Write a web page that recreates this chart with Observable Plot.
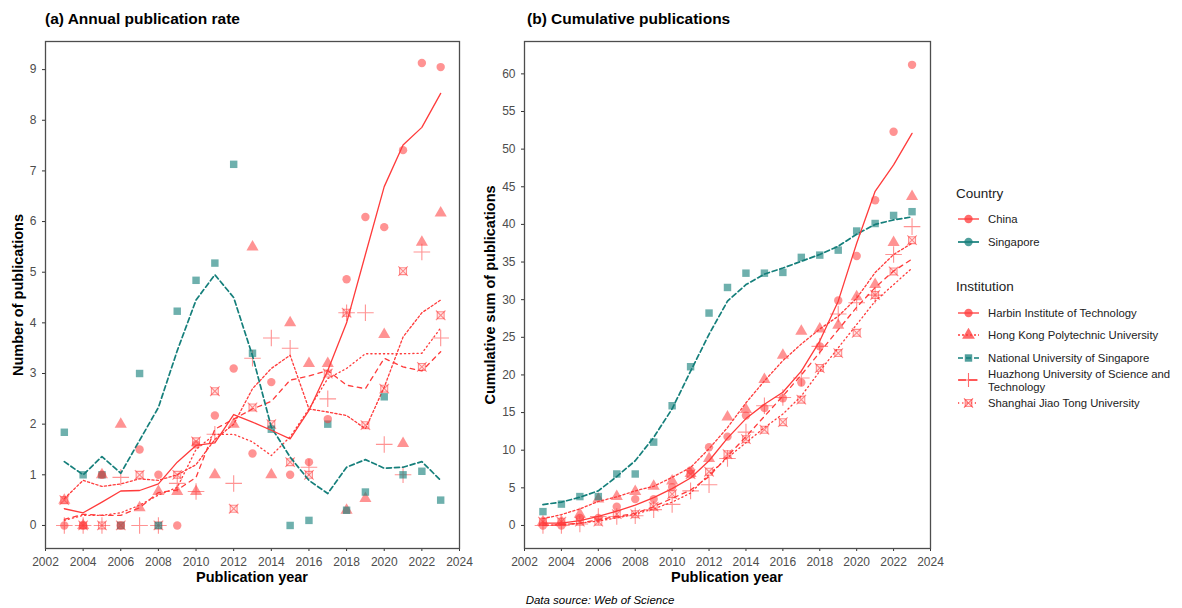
<!DOCTYPE html>
<html><head><meta charset="utf-8">
<script src="https://cdn.jsdelivr.net/npm/d3@7"></script>
<script src="https://cdn.jsdelivr.net/npm/@observablehq/plot@0.6"></script>
<style>
body{margin:0;background:#fff;font-family:"Liberation Sans",Arial,Helvetica,sans-serif;}
#wrap{position:relative;width:1182px;height:608px;overflow:hidden;}
.abs{position:absolute;white-space:nowrap;color:#000;}
.ttl{font-weight:bold;font-size:15.5px;}
.axt{font-weight:bold;font-size:14.5px;}
.lgt{font-size:13.5px;color:#222;}
.lgi{font-size:11.3px;color:#222;line-height:12.5px;}
</style></head>
<body><div id="wrap"></div>
<script>
// ---------------- data ----------------
const years = [2003,2004,2005,2006,2007,2008,2009,2010,2011,2012,2013,2014,2015,2016,2017,2018,2019,2020,2021,2022,2023];
const xTicks = [2002,2004,2006,2008,2010,2012,2014,2016,2018,2020,2022,2024];
const yTicksA = [0,1,2,3,4,5,6,7,8,9];
const yTicksB = [0,5,10,15,20,25,30,35,40,45,50,55,60];

// (a) annual publication counts (points)
const annHarbin   = [0,0,1.0,0,1.5,1.0,0,1.6,2.17,3.1,1.42,2.83,1.0,1.25,2.1,4.86,6.09,5.89,7.41,9.13,9.05];
const annHKPolyU  = [0.5,0,1.0,2.0,0.35,0.67,0.67,0.67,1.0,2.0,5.5,1.0,4.0,3.2,3.2,0.3,0.53,3.77,1.62,5.59,6.17];
const annNUS      = [1.84,1.0,1.0,0,3.0,0,4.23,4.84,5.18,7.13,3.4,1.9,0,0.1,2.0,0.3,0.66,2.54,1.0,1.07,0.5];
const annHuazhong = [0,0,0,0.95,0,0,0.83,0.67,1.8,0.83,3.3,3.7,3.5,1.15,2.5,4.2,4.2,1.6,1.0,5.4,3.7];
const annSJTU     = [0.5,0,0,0,1.0,0,1.0,1.66,2.65,0.33,2.33,2.0,1.25,1.0,3.0,4.2,1.98,2.7,5.02,3.13,4.15];

// (a) trend lines
const trHarbin   = [0.33,0.25,0.46,0.68,0.69,0.82,1.25,1.58,1.63,2.19,2.04,1.88,1.71,2.27,3.06,4.0,5.35,6.69,7.51,7.86,8.53];
const trHKPolyU  = [0.53,0.89,0.77,0.82,0.92,0.89,1.0,1.2,1.7,2.0,2.7,3.1,3.36,2.3,2.24,2.17,1.91,2.73,3.72,4.2,4.45];
const trNUS      = [1.26,1.0,1.36,1.03,1.68,2.33,3.45,4.45,4.95,4.5,3.35,1.94,1.35,0.89,0.63,1.15,1.30,1.13,1.15,1.26,0.89];
const trHuazhong = [0.12,0.22,0.2,0.2,0.35,0.65,0.7,0.95,1.9,2.1,2.3,2.45,2.87,2.95,3.06,2.77,2.7,3.3,3.13,3.05,3.43];
const trSJTU     = [0.1,0.2,0.2,0.25,0.4,0.6,0.75,1.5,1.8,1.8,1.65,1.38,1.75,2.3,2.9,3.1,3.39,3.39,3.39,3.4,3.9];

// (b) cumulative publications (points)
const cumHarbin   = [0,0,1,1,2.5,3.5,3.5,5.1,7.3,10.4,11.8,14.6,15.6,16.9,19.0,23.8,29.9,35.8,43.2,52.3,61.2];
const cumHKPolyU  = [0.5,0.5,1.5,3.5,3.85,4.5,5.2,5.9,6.9,8.9,14.4,15.4,19.4,22.6,25.8,26.1,26.6,30.4,32.0,37.6,43.7];
const cumNUS      = [1.84,2.84,3.84,3.84,6.84,6.84,11.07,15.91,21.09,28.22,31.62,33.52,33.52,33.62,35.62,35.92,36.58,39.12,40.12,41.19,41.69];
const cumHuazhong = [0,0,0.2,1.2,1.2,1.3,2.1,2.8,4.6,5.4,8.9,12.4,15.9,17.0,19.6,23.8,28.1,29.6,30.6,36.0,39.7];
const cumSJTU     = [0.5,0.5,0.5,0.5,1.5,1.5,2.5,4.16,6.81,7.14,9.47,11.47,12.72,13.72,16.72,20.92,22.9,25.6,30.62,33.75,37.9];

// (b) trend lines
const ctrHarbin   = [0.3,0.3,0.65,1.2,1.9,2.7,3.7,4.9,6.3,8.6,11.6,14.2,16.1,17.7,20.5,24.5,29.8,37.5,44.4,47.9,52.1];
const ctrHKPolyU  = [0.9,1.45,2.2,3.2,3.8,4.6,5.2,6.4,7.7,10.2,13.0,16.3,19.2,21.9,24.1,26.1,27.8,30.2,33.6,36.0,37.5];
const ctrNUS      = [2.78,3.1,3.75,4.6,6.5,8.6,11.7,15.5,20.5,25.4,29.8,32.0,33.4,34.2,35.1,36.0,37.1,38.7,40.0,40.6,41.0];
const ctrHuazhong = [0,0.1,0.3,0.75,1.2,1.6,2.5,3.6,4.7,6.5,9.2,11.8,14.5,17.2,20.0,23.0,26.0,29.0,31.6,33.8,35.4];
const ctrSJTU     = [0,0.1,0.3,0.6,1.0,1.5,2.2,3.1,4.3,6.8,9.0,11.0,13.0,14.8,17.2,20.5,23.6,26.7,29.8,32.0,34.2];

// ---------------- style ----------------
const RED = "#FF3B3B", TEAL = "#157F7B";
const FONT = '"Liberation Sans", Arial, Helvetica, sans-serif';
const dashes = {Harbin: null, HK: "2.2,2.2", NUS: "5,3", Huazhong: "4.5,4.5", SJTU: "1.2,3"};

function seriesMarks(vals, trend, color, dash, symbol, lw) {
  const marks = [];
  marks.push(Plot.line(years, {x: years, y: trend, stroke: color, strokeWidth: lw, strokeDasharray: dash || undefined, curve: "linear"}));
  if (symbol === "crossSquare") {
    marks.push(Plot.dot(years, {x: years, y: vals, symbol: "square2", r: 4.4, stroke: color, strokeOpacity: 0.55, strokeWidth: 1.1, fill: color, fillOpacity: 0.12}));
    marks.push(Plot.dot(years, {x: years, y: vals, symbol: "times", r: 4.4, stroke: color, strokeOpacity: 0.55, strokeWidth: 1.1}));
  } else if (symbol === "plus") {
    marks.push(Plot.dot(years, {x: years, y: vals, symbol: "plus", r: 5.4, stroke: color, strokeOpacity: 0.55, strokeWidth: 1.1}));
  } else {
    marks.push(Plot.dot(years, {x: years, y: vals, symbol, r: symbol === "triangle" ? 4.5 : 4.2, fill: color, fillOpacity: color === TEAL ? 0.62 : 0.55, stroke: "none"}));
  }
  return marks;
}

function panel(opts) {
  return Plot.plot({
    width: opts.width, height: 590,
    marginLeft: opts.ml, marginRight: opts.mr, marginTop: 41, marginBottom: 42,
    style: {fontFamily: FONT, fontSize: "12px", color: "#4d4d4d", background: "transparent", overflow: "visible"},
    x: {domain: [2002, 2024], ticks: xTicks, tickFormat: d => String(d), label: null, tickSize: 3, tickPadding: 3},
    y: {domain: opts.ydom, ticks: opts.yticks, tickFormat: d => String(d), label: null, tickSize: 3, tickPadding: 3},
    marks: [
      Plot.axisX({ticks: xTicks, tickFormat: d => String(d), label: null, tickSize: 3, stroke: "#333", fill: "#4d4d4d"}),
      Plot.axisY({ticks: opts.yticks, label: null, tickSize: 3, stroke: "#333", fill: "#4d4d4d"}),
      ...seriesMarks(opts.d.sjtu, opts.t.sjtu, RED, dashes.SJTU, "crossSquare", 1.3),
      ...seriesMarks(opts.d.hz, opts.t.hz, RED, dashes.Huazhong, "plus", 1.3),
      ...seriesMarks(opts.d.hk, opts.t.hk, RED, dashes.HK, "triangle", 1.3),
      ...seriesMarks(opts.d.nus, opts.t.nus, TEAL, dashes.NUS, "square", 1.7),
      ...seriesMarks(opts.d.harbin, opts.t.harbin, RED, dashes.Harbin, "circle", 1.3),
      Plot.frame({stroke: "#4d4d4d", strokeWidth: 1.3})
    ]
  });
}

const wrap = document.getElementById("wrap");
function place(el, left, top) { el.style.position = "absolute"; el.style.left = left + "px"; el.style.top = top + "px"; wrap.appendChild(el); }

const A = panel({width: 470, ml: 45, mr: 11, ydom: [-0.455, 9.555], yticks: yTicksA,
  d: {harbin: annHarbin, hk: annHKPolyU, nus: annNUS, hz: annHuazhong, sjtu: annSJTU},
  t: {harbin: trHarbin, hk: trHKPolyU, nus: trNUS, hz: trHuazhong, sjtu: trSJTU}});
place(A, 0, 0);
const B = panel({width: 460, ml: 44, mr: 10, ydom: [-3.06, 64.3], yticks: yTicksB,
  d: {harbin: cumHarbin, hk: cumHKPolyU, nus: cumNUS, hz: cumHuazhong, sjtu: cumSJTU},
  t: {harbin: ctrHarbin, hk: ctrHKPolyU, nus: ctrNUS, hz: ctrHuazhong, sjtu: ctrSJTU}});
place(B, 480, 0);

function txt(cls, s, left, top, extra) {
  const d = document.createElement("div"); d.className = "abs " + cls; d.textContent = s;
  d.style.left = left + "px"; d.style.top = top + "px";
  if (extra) Object.assign(d.style, extra);
  wrap.appendChild(d); return d;
}
txt("ttl", "(a) Annual publication rate", 45, 10);
txt("ttl", "(b) Cumulative publications", 527, 10);
txt("axt", "Publication year", 252, 569, {transform: "translateX(-50%)"});
txt("axt", "Publication year", 727, 569, {transform: "translateX(-50%)"});
txt("axt", "Number of publications", 18, 295, {transform: "translate(-50%,-50%) rotate(-90deg)"});
txt("axt", "Cumulative sum of publications", 490, 295, {transform: "translate(-50%,-50%) rotate(-90deg)"});
txt("", "Data source: Web of Science", 600, 594, {transform: "translateX(-50%)", fontStyle: "italic", fontSize: "11.5px"});

// ---------------- legend ----------------
const NS = "http://www.w3.org/2000/svg";
function key(color, dash, symbol, lw) {
  const s = document.createElementNS(NS, "svg"); s.setAttribute("width", 24); s.setAttribute("height", 14);
  const l = document.createElementNS(NS, "line");
  l.setAttribute("x1", 1); l.setAttribute("x2", 22); l.setAttribute("y1", 7); l.setAttribute("y2", 7);
  l.setAttribute("stroke", color); l.setAttribute("stroke-width", lw); if (dash) l.setAttribute("stroke-dasharray", dash);
  s.appendChild(l);
  const sym = {circle: d3.symbolCircle, triangle: d3.symbolTriangle, square: d3.symbolSquare, plus: d3.symbolPlus, times: d3.symbolTimes, square2: d3.symbolSquare2};
  function add(name, size, filled) {
    const p = document.createElementNS(NS, "path");
    p.setAttribute("d", d3.symbol(sym[name], size)());
    p.setAttribute("transform", "translate(11.5,7)");
    if (filled) { p.setAttribute("fill", color); p.setAttribute("fill-opacity", 0.75); }
    else { p.setAttribute("fill", "none"); p.setAttribute("stroke", color); p.setAttribute("stroke-opacity", 0.75); p.setAttribute("stroke-width", 1.1); }
    s.appendChild(p);
  }
  if (symbol === "crossSquare") { add("square2", 55, false); add("times", 55, false); }
  else if (symbol === "plus") add("plus", 120, false);
  else add(symbol, symbol === "triangle" ? 70 : 55, true);
  return s;
}
txt("lgt", "Country", 956, 186);
function item(k, label, top) {
  place(k, 957, top - 7);
  const d = txt("lgi", label, 988, top, {transform: "translateY(-50%)"});
  return d;
}
item(key(RED, null, "circle", 1.3), "China", 219);
item(key(TEAL, null, "circle", 1.7), "Singapore", 241.5);
txt("lgt", "Institution", 956, 279);
item(key(RED, null, "circle", 1.3), "Harbin Institute of Technology", 312.5);
item(key(RED, "2,2", "triangle", 1.3), "Hong Kong Polytechnic University", 335);
item(key(TEAL, "5,3", "square", 1.7), "National University of Singapore", 357.5);
item(key(RED, "8,3", "plus", 1.3), "Huazhong University of Science and\nTechnology", 380).style.whiteSpace = "pre";
item(key(RED, "1.2,3", "crossSquare", 1.3), "Shanghai Jiao Tong University", 402.5);
</script></body></html>
